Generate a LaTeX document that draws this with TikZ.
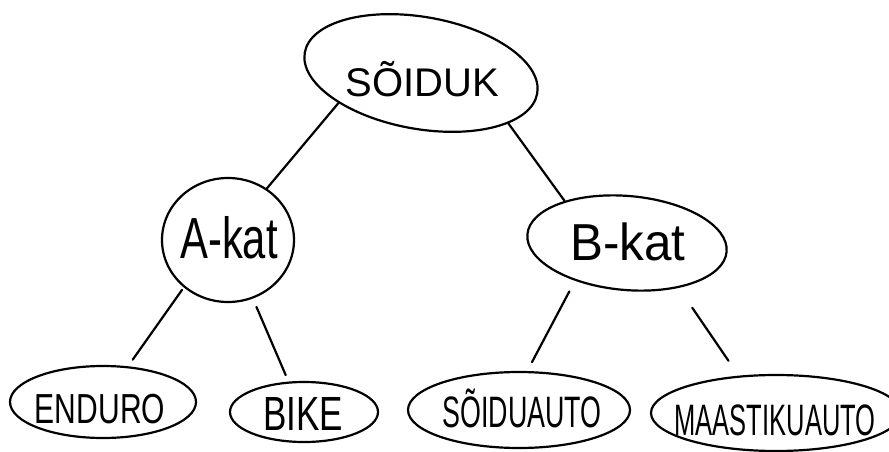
\documentclass[tikz,border=0pt]{standalone}
\usepackage{fontspec}
\setmainfont{Liberation Sans}
\usetikzlibrary{shapes.geometric}
% horizontally narrowed lettering
\newcommand\squeeze[2]{\scalebox{#1}[1]{#2}}
\begin{document}
\begin{tikzpicture}[x=1pt,y=-1pt,
  pen/.style={line width=2.2pt, line cap=round, line join=round},
  bubble/.style={pen, draw, ellipse, inner sep=0pt},
  word/.style={anchor=base, inner sep=0pt},
  link/.style={pen}]
\fill[white] (0,0) rectangle (889,452);
\useasboundingbox (0,0) rectangle (889,452);

% ellipses of the tree
\node[bubble, minimum width=236pt, minimum height=112pt, rotate=-10] (vehicle) at (421,73) {};
\node[bubble, minimum width=132pt, minimum height=124pt] (akat) at (228,240) {};
\node[bubble, minimum width=200pt, minimum height=94pt, rotate=-5] (bkat) at (627,243) {};
\node[bubble, minimum width=186pt, minimum height=72pt] (enduro) at (103,402) {};
\node[bubble, minimum width=148pt, minimum height=60pt] (bike) at (304,412) {};
\node[bubble, minimum width=222pt, minimum height=76pt] (car) at (519,410) {};
\node[bubble, minimum width=250pt, minimum height=76pt] (offroad) at (776,413) {};

% labels
\node[word, font=\fontsize{40}{40}\selectfont] (vehicleT) at (422,96) {SÕIDUK};
\node[word, font=\fontsize{58}{58}\selectfont] (akatT) at (229,258) {\squeeze{0.72}{A-kat}};
\node[word, font=\fontsize{52}{52}\selectfont] (bkatT) at (628,260) {\squeeze{0.95}{B-kat}};
\node[word, font=\fontsize{42}{42}\selectfont] (enduroT) at (100,423) {\squeeze{0.715}{ENDURO}};
\node[word, font=\fontsize{48}{48}\selectfont] (bikeT) at (303,430) {\squeeze{0.73}{BIKE}};
\node[word, font=\fontsize{44}{44}\selectfont] (carT) at (522,427) {\squeeze{0.61}{SÕIDUAUTO}};
\node[word, font=\fontsize{44}{44}\selectfont] (offroadT) at (775,435) {\squeeze{0.58}{MAASTIKUAUTO}};

% branches
\draw[link] (vehicle.210) -- (akat.53);
\draw[link] (vehicle.-20) -- (bkat.151);
\draw[link, shorten <=3pt, shorten >=8pt] (akat.227) -- (enduro.55);
\draw[link, shorten <=9pt, shorten >=7pt] (akat.-67) -- (bike.117);
\draw[link, shorten <=12pt, shorten >=10pt] (bkat.221) -- (car.78);
\draw[link, shorten <=24pt, shorten >=18pt] (bkat.-36) -- (offroad.135);
\end{tikzpicture}
\end{document}
